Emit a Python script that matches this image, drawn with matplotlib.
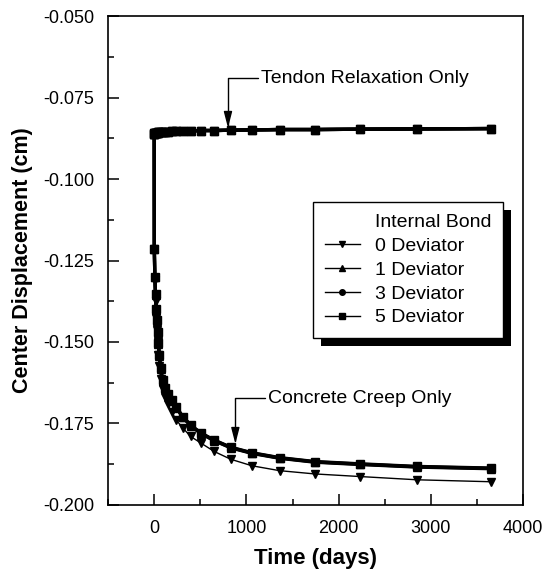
import matplotlib
matplotlib.use("Agg")
from matplotlib import pyplot as plt
from matplotlib.lines import Line2D
from matplotlib.patches import Rectangle
from matplotlib.ticker import MultipleLocator, FormatStrFormatter

plt.rcParams['font.family'] = ['Liberation Sans', 'DejaVu Sans']

# time steps (days)
days = [0, 1, 7, 14, 21, 28, 36, 45, 55, 70, 90, 115, 145, 190, 240, 310,
        395, 505, 650, 830, 1060, 1360, 1740, 2230, 2850, 3650]

# tendon relaxation only (all deviator cases overlap)
relax = [-0.0862, -0.0861, -0.0860, -0.0859, -0.0859, -0.0858, -0.0858, -0.0857,
         -0.0857, -0.0856, -0.0856, -0.0855, -0.0855, -0.0854, -0.0853, -0.0853,
         -0.0852, -0.0851, -0.0851, -0.0850, -0.0849, -0.0848, -0.0848, -0.0847,
         -0.0846, -0.0845]

# concrete creep only
creep_0 = [-0.0860, -0.1215, -0.1310, -0.1373, -0.1425, -0.1463, -0.1500, -0.1540,
           -0.1575, -0.1615, -0.1645, -0.1668, -0.1690, -0.1715, -0.1740, -0.1764,
           -0.1790, -0.1810, -0.1836, -0.1860, -0.1880, -0.1895, -0.1905, -0.1913,
           -0.1923, -0.1929]
creep_1 = [-0.0860, -0.1215, -0.1300, -0.1355, -0.1402, -0.1436, -0.1472, -0.1506,
           -0.1543, -0.1582, -0.1619, -0.1642, -0.1662, -0.1680, -0.1702, -0.1731,
           -0.1757, -0.1781, -0.1803, -0.1825, -0.1842, -0.1857, -0.1869, -0.1876,
           -0.1884, -0.1889]
creep_3 = [-0.0860, -0.1215, -0.1300, -0.1354, -0.1401, -0.1434, -0.1471, -0.1504,
           -0.1541, -0.1581, -0.1618, -0.1641, -0.1661, -0.1679, -0.1701, -0.1730,
           -0.1756, -0.1780, -0.1802, -0.1824, -0.1841, -0.1856, -0.1868, -0.1875,
           -0.1883, -0.1888]
creep_5 = [-0.0860, -0.1215, -0.1300, -0.1353, -0.1400, -0.1433, -0.1470, -0.1503,
           -0.1540, -0.1580, -0.1617, -0.1640, -0.1660, -0.1678, -0.1700, -0.1729,
           -0.1755, -0.1779, -0.1801, -0.1823, -0.1840, -0.1855, -0.1867, -0.1874,
           -0.1882, -0.1887]

labels = ["0 Deviator", "1 Deviator", "3 Deviator", "5 Deviator"]
markers = ["v", "^", "o", "s"]
creeps = [creep_0, creep_1, creep_3, creep_5]
widths = [1.0, 2.4, 2.4, 2.4]

fig = plt.figure(figsize=(5.46, 5.77), dpi=100)
fig.subplots_adjust(left=0.198, right=0.958, top=0.972, bottom=0.125)
ax = fig.add_subplot(111)

for lab, m, cr, w in zip(labels, markers, creeps, widths):
    ax.plot(days, relax, color='black', lw=2.4, marker=m, ms=5.5)
    ax.plot(days, cr, color='black', lw=w, marker=m, ms=5.5)

ax.set_xlim(-500, 4000)
ax.set_ylim(-0.2, -0.05)
ax.xaxis.set_major_locator(MultipleLocator(1000))
ax.xaxis.set_minor_locator(MultipleLocator(500))
ax.yaxis.set_major_locator(MultipleLocator(0.025))
ax.yaxis.set_minor_locator(MultipleLocator(0.0125))
ax.yaxis.set_major_formatter(FormatStrFormatter('%.3f'))
ax.tick_params(which='both', direction='in', top=False, right=False, width=1.1, labelsize=13)
ax.tick_params(which='major', length=8)
ax.tick_params(which='minor', length=4.5)
ax.tick_params(axis='x', pad=11)
ax.tick_params(axis='y', pad=10)
for s in ax.spines.values():
    s.set_linewidth(1.2)

ax.set_xlabel("Time (days)", fontsize=16, fontweight='bold')
ax.set_ylabel("Center Displacement (cm)", fontsize=15.5, fontweight='bold')
ax.xaxis.set_label_coords(0.5, -0.088)
ax.yaxis.set_label_coords(-0.18, 0.5)

# annotations
ax.annotate("Tendon Relaxation Only", xy=(800, -0.0843), xytext=(1160, -0.0690),
            fontsize=14, ha='left', va='center',
            arrowprops=dict(arrowstyle='-|>,head_length=0.7,head_width=0.18', color='black',
                            lw=1.0, shrinkA=0, shrinkB=0, relpos=(0, 0.5),
                            connectionstyle='angle,angleA=0,angleB=90,rad=0'))
ax.annotate("Concrete Creep Only", xy=(880, -0.1813), xytext=(1235, -0.1672),
            fontsize=14, ha='left', va='center',
            arrowprops=dict(arrowstyle='-|>,head_length=0.7,head_width=0.18', color='black',
                            lw=1.0, shrinkA=0, shrinkB=0, relpos=(0, 0.5),
                            connectionstyle='angle,angleA=0,angleB=90,rad=0'))

# legend with an unmarked header row
handles = [Line2D([], [], linestyle='none')]
for lab, m in zip(labels, markers):
    handles.append(Line2D([], [], color='black', lw=1.0, marker=m, ms=4))
leg = ax.legend(handles, ["Internal Bond"] + labels, loc='upper left',
                bbox_to_anchor=(0.494, 0.62), borderaxespad=0, fontsize=14,
                frameon=True, fancybox=False, edgecolor='black', framealpha=1,
                handlelength=1.8, handletextpad=0.8, labelspacing=0.32, borderpad=0.6)
leg.get_frame().set_linewidth(1.0)
leg.set_zorder(5)

# drop shadow behind the legend
fig.canvas.draw()
bb = leg.get_window_extent().transformed(ax.transAxes.inverted())
dx = 8 / 415
dy = 8 / 489
ax.add_patch(Rectangle((bb.x0 + dx, bb.y0 - dy), bb.width, bb.height,
                       transform=ax.transAxes, facecolor='black', edgecolor='none',
                       zorder=4.9, clip_on=False))

fig.savefig("out.png", dpi=100)
